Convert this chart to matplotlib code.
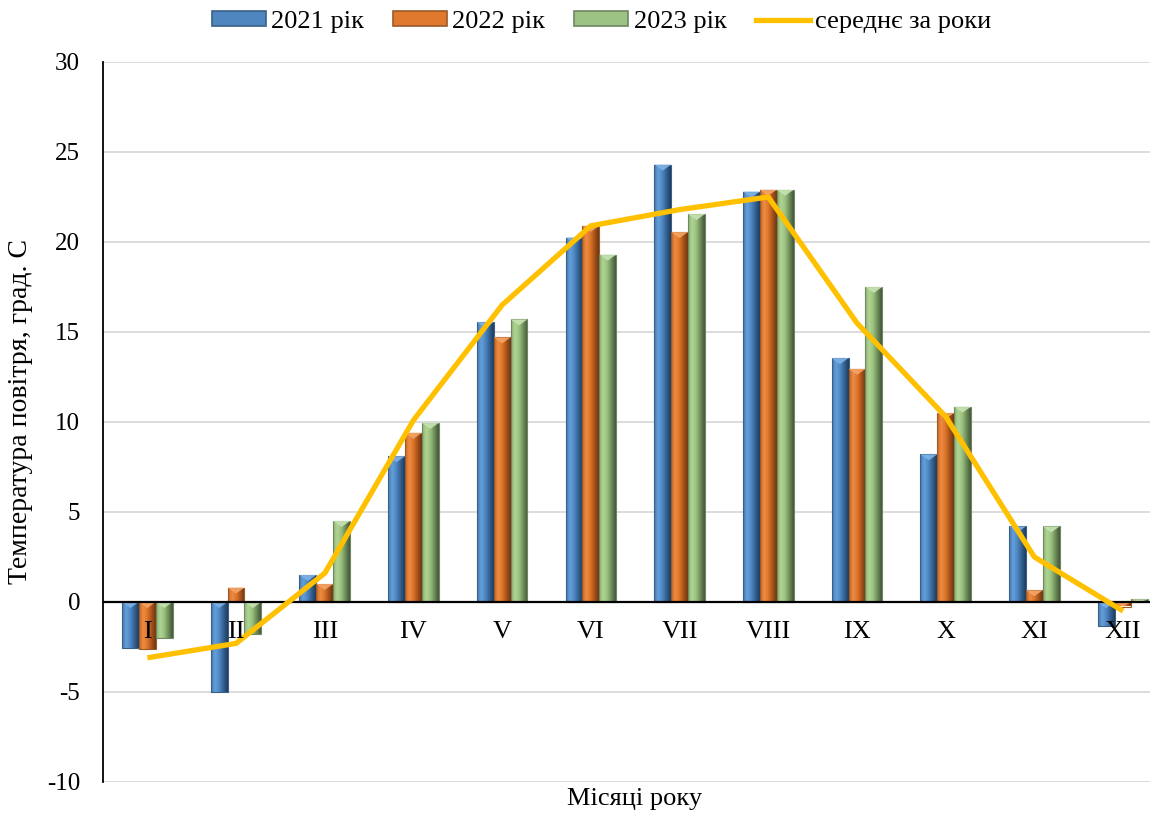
import numpy as np
import matplotlib
matplotlib.use("Agg")
import matplotlib.pyplot as plt
from matplotlib.colors import LinearSegmentedColormap
from matplotlib.patches import Rectangle, Polygon, Patch
from matplotlib.lines import Line2D

plt.rcParams['font.family'] = ['Liberation Serif', 'DejaVu Serif']
plt.rcParams['axes.unicode_minus'] = False

months = ['I', 'II', 'III', 'IV', 'V', 'VI', 'VII', 'VIII', 'IX', 'X', 'XI', 'XII']
t2021 = [-2.55, -5.0, 1.5, 8.1, 15.55, 20.25, 24.3, 22.8, 13.55, 8.2, 4.2, -1.35]
t2022 = [-2.6, 0.8, 1.0, 9.4, 14.7, 20.9, 20.55, 22.9, 12.95, 10.5, 0.65, -0.25]
t2023 = [-2.0, -1.8, 4.5, 9.95, 15.7, 19.3, 21.55, 22.9, 17.5, 10.85, 4.2, 0.15]
t_avg = [-3.1, -2.3, 1.6, 10.1, 16.5, 20.9, 21.8, 22.5, 15.5, 10.3, 2.5, -0.5]
series_names = ['2021 рік', '2022 рік', '2023 рік']
avg_name = 'середнє за роки'

# bevel look: left-to-right gradient, light triangle on top, dark edge
styles = [
    dict(grad=['#4479b3', '#65a0da', '#4d86c2', '#33608f', '#1f3b5c'], top='#7fb2e6', edge='#3b5f86', face='#4f86c0'),
    dict(grad=['#c8651f', '#f08d45', '#dc7428', '#a5521a', '#6e3510'], top='#f5a466', edge='#9a5a2a', face='#e0782e'),
    dict(grad=['#8db46f', '#b0d596', '#98bf7c', '#6c8a57', '#43563a'], top='#c6e3b2', edge='#6f8762', face='#9cc383'),
]

fig = plt.figure(figsize=(11.5, 8.14), dpi=100)
ax = fig.add_axes([103 / 1150, 1 - 782 / 814, 1 - 103 / 1150, (782 - 62) / 814])

ymin, ymax = -10, 30
bar_w = 0.19
px_per_unit = 720 / 40


def bevel_bar(ax, xc, h, w, st):
    x0, x1 = xc - w / 2, xc + w / 2
    y0, y1 = min(0, h), max(0, h)
    if y1 - y0 <= 0:
        return
    cmap = LinearSegmentedColormap.from_list('b', st['grad'])
    grad = np.linspace(0, 1, 64).reshape(1, -1)
    im = ax.imshow(grad, extent=[x0, x1, y0, y1], cmap=cmap, aspect='auto',
                   interpolation='bicubic', zorder=2)
    rect = Rectangle((x0, y0), w, y1 - y0, facecolor='none', edgecolor=st['edge'],
                     lw=0.8, zorder=3)
    ax.add_patch(rect)
    im.set_clip_path(rect)
    d = min(6 / px_per_unit, y1 - y0)
    ax.add_patch(Polygon([(x0, y1), (x1, y1), (xc, y1 - d)], closed=True,
                         facecolor=st['top'], edgecolor='none', zorder=3, alpha=0.9))


x = np.arange(len(months))
for k, data in enumerate([t2021, t2022, t2023]):
    for i, v in enumerate(data):
        bevel_bar(ax, x[i] + (k - 1) * bar_w, v, bar_w, styles[k])

ax.plot(x, t_avg, color='#ffc000', lw=3.8, zorder=5, solid_capstyle='butt')

# grid & axes
for g in range(ymin, ymax + 1, 5):
    if g != 0:
        ax.axhline(g, color='#d9d9d9', lw=1.3, zorder=0)
ax.axhline(0, color='black', lw=1.6, zorder=4)

ax.set_xlim(-0.5, -0.5 + 1047 / 88.7)
ax.set_ylim(ymin, ymax)
ax.set_yticks(range(ymin, ymax + 1, 5))
ax.tick_params(axis='y', length=0, pad=16.5, labelsize=18)
ax.set_xticks([])
for s in ['top', 'right', 'bottom']:
    ax.spines[s].set_visible(False)
ax.spines['left'].set_linewidth(1.3)
ax.spines['left'].set_color('black')

for i, m in enumerate(months):
    ax.text(x[i], -1.67, m, ha='center', va='center', fontsize=19, zorder=6)

ax.set_ylabel('Температура повітря, град. С', fontsize=20)
ax.yaxis.set_label_coords(-0.067, 0.515)
ax.text((635 - 103) / 1047, -0.008, 'Місяці року', transform=ax.transAxes,
        ha='center', va='top', fontsize=19)

handles = [Patch(facecolor=st['face'], edgecolor=st['edge'], lw=1.2) for st in styles]
handles.append(Line2D([0], [0], color='#ffc000', lw=3.8))
fig.legend(handles, series_names + [avg_name], loc='center', ncol=4,
           bbox_to_anchor=(0.523, 0.973), frameon=False, fontsize=19,
           handlelength=2.05, handleheight=0.5, handletextpad=0.2, columnspacing=1.1,
           borderaxespad=0, borderpad=0)

fig.savefig('out.png', dpi=100, facecolor='white')
